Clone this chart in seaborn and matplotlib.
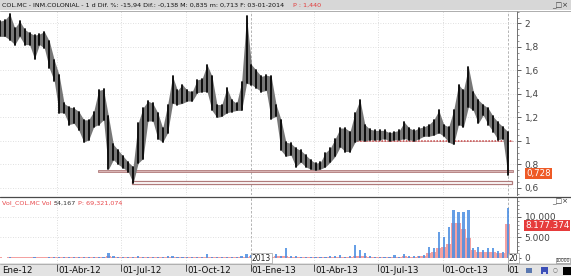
import numpy as np
import pandas as pd
import matplotlib
matplotlib.use("Agg")
import matplotlib.pyplot as plt
import matplotlib.dates as mdates
from matplotlib.patches import Rectangle
from matplotlib.ticker import MultipleLocator
import seaborn as sns

# ---------------- data (weekly bars) ----------------
week_end = pd.date_range("2012-01-13", periods=104, freq="W-FRI")

price_high = [2.02, 2.03, 2.08, 1.96, 2.02, 1.95, 1.92, 1.90, 1.91, 1.93,
              1.85, 1.69, 1.56, 1.32, 1.29, 1.28, 1.25, 1.18, 1.18, 1.25,
              1.43, 1.44, 1.21, 0.97, 0.92, 0.87, 0.82, 0.78, 1.15, 1.28,
              1.34, 1.32, 1.24, 1.11, 1.31, 1.55, 1.43, 1.48, 1.43, 1.42,
              1.52, 1.53, 1.65, 1.55, 1.31, 1.31, 1.45, 1.35, 1.32, 1.50,
              2.06, 1.65, 1.60, 1.55, 1.56, 1.55, 1.31, 1.18, 0.99, 0.98,
              0.94, 0.92, 0.88, 0.84, 0.81, 0.82, 0.90, 0.94, 1.02, 1.11,
              1.11, 1.08, 1.24, 1.35, 1.14, 1.10, 1.09, 1.09, 1.09, 1.07,
              1.08, 1.09, 1.16, 1.11, 1.09, 1.11, 1.12, 1.14, 1.18, 1.26,
              1.14, 1.12, 1.26, 1.48, 1.43, 1.63, 1.42, 1.35, 1.31, 1.28,
              1.21, 1.16, 1.12, 1.08]
price_low = [1.89, 1.89, 1.86, 1.82, 1.89, 1.82, 1.82, 1.70, 1.82, 1.79,
             1.62, 1.51, 1.24, 1.24, 1.14, 1.15, 1.09, 0.99, 1.01, 1.12,
             1.14, 1.18, 0.76, 0.84, 0.80, 0.77, 0.74, 0.64, 0.81, 0.85,
             1.17, 1.17, 1.02, 0.99, 1.07, 1.32, 1.31, 1.32, 1.34, 1.34,
             1.41, 1.42, 1.42, 1.26, 1.20, 1.21, 1.24, 1.25, 1.26, 1.26,
             1.49, 1.48, 1.45, 1.42, 1.43, 1.19, 1.21, 0.92, 0.87, 0.88,
             0.78, 0.82, 0.78, 0.76, 0.75, 0.76, 0.78, 0.82, 0.87, 0.95,
             0.91, 0.91, 0.99, 1.01, 1.00, 1.01, 1.01, 1.01, 1.02, 1.00,
             1.01, 1.01, 1.02, 1.01, 1.00, 1.02, 1.04, 1.04, 1.05, 1.07,
             1.04, 0.99, 0.97, 1.14, 1.12, 1.29, 1.26, 1.15, 1.22, 1.14,
             1.08, 1.01, 1.02, 0.713]

# volume in thousands of shares (blue = up, pink = down)
vol_up = [100, 80, 150, 120, 90, 100, 80, 200, 100, 120,
          200, 250, 300, 150, 200, 150, 250, 300, 200, 250,
          350, 300, 1300, 400, 200, 150, 200, 250, 400, 350,
          200, 250, 150, 300, 500, 450, 200, 300, 150, 200,
          150, 200, 1000, 300, 200, 150, 250, 300, 200, 600,
          900, 700, 500, 400, 700, 500, 1000, 600, 2400, 500,
          400, 300, 200, 150, 150, 200, 300, 400, 400, 700,
          300, 500, 3200, 2000, 1300, 400, 300, 250, 300, 200,
          800, 300, 1000, 400, 600, 500, 700, 2800, 2400, 6400,
          5200, 7600, 11700, 11300, 11300, 11700, 2500, 2800, 2000, 2500,
          2500, 1800, 1500, 12300]
vol_down = [150, 120, 180, 150, 130, 150, 140, 200, 150, 160,
            200, 220, 250, 180, 200, 170, 220, 250, 200, 210,
            250, 240, 400, 260, 200, 180, 200, 220, 300, 260,
            200, 220, 180, 240, 300, 280, 200, 240, 180, 200,
            180, 200, 350, 240, 200, 180, 220, 240, 200, 300,
            300, 400, 300, 300, 400, 300, 500, 400, 400, 300,
            250, 200, 150, 150, 150, 150, 200, 250, 300, 300,
            250, 300, 600, 500, 400, 250, 200, 200, 200, 200,
            300, 200, 400, 300, 300, 400, 500, 1200, 1500, 2500,
            2700, 3500, 8500, 8450, 7000, 4900, 2000, 1500, 1500, 1500,
            1400, 1300, 1200, 8177]

last_close = 0.728
last_close_label = "0,728"
last_volume_k = 8177.374
last_volume_label = "8.177.374"

support_band = (0.737, 0.757, "2012-05-29", "2014-01-08")
support_box = (0.635, 0.661, "2012-07-16", "2014-01-07")
resistance = (1.0, "2013-06-01", "2014-01-08")

quarter_dates = ["2012-01-01", "2012-04-01", "2012-07-01", "2012-10-01", "2013-01-01",
                 "2013-04-01", "2013-07-01", "2013-10-01", "2014-01-01"]
# labels as visible (first and last are cut by the panel edges in the reference)
quarter_labels = ["Ene-12", "01-Abr-12", "01-Jul-12", "01-Oct-12", "01-Ene-13",
                  "01-Abr-13", "01-Jul-13", "01-Oct-13", "01"]
year_dates = ["2013-01-01", "2014-01-01"]
year_labels = ["2013", "20"]

price_ticks = [0.6, 0.8, 1.0, 1.2, 1.4, 1.6, 1.8, 2.0]
price_tick_labels = ["0,6", "0,8", "1", "1,2", "1,4", "1,6", "1,8", "2"]
vol_ticks = [0, 5000, 10000]
vol_tick_labels = ["0", "5.000", "10.000"]

header_text = "COL.MC - INM.COLONIAL - 1 d Dif. %: -15,94 Dif.: -0,138 M: 0,835 m: 0,713 F: 03-01-2014"
header_p = "P : 1,440"
vol_legend = [("Vol_COL.MC Vol :", 2), ("54,167", 54), ("P: 69,321,074", 78)]
vol_legend_colors = ["#e8474a", "#333333", "#e8474a"]

# ---------------- style ----------------
sns.set_style("white")
plt.rcParams["font.family"] = ["Liberation Sans Narrow", "DejaVu Sans"]

W, H = 571, 276
fig = plt.figure(figsize=(W / 100, H / 100), dpi=100)
fig.patch.set_facecolor("white")


def fx(px):
    return px / W


def fy(py):
    return 1 - py / H


xlim = (mdates.date2num(pd.Timestamp("2012-01-11")), mdates.date2num(pd.Timestamp("2014-01-14")))
px_per_day = 517.0 / (xlim[1] - xlim[0])
xc = mdates.date2num(week_end) - 2.0
bin_lo, bin_hi = float(xc[0] - 3.5), float(xc[-1] + 3.5)

# backgrounds
fig.add_artist(Rectangle((0, fy(10)), 1, 10 / H, transform=fig.transFigure,
                         fc="#d7d7d7", ec="none", zorder=0))
fig.add_artist(Rectangle((0, 0), 1, 13 / H, transform=fig.transFigure,
                         fc="#e3e3e3", ec="none", zorder=0))

ax = fig.add_axes([0, fy(195), fx(517), (195 - 11) / H])
axv = fig.add_axes([0, fy(263), fx(517), (263 - 198) / H])
axs = fig.add_axes([0, 0, fx(517), 13 / H])

# ---------------- price panel ----------------
ax.set_facecolor("white")
for q in quarter_dates:
    yr = q.endswith("01-01")
    ax.axvline(mdates.date2num(pd.Timestamp(q)), color="#a8a8a8" if yr else "#d2d2d2",
               lw=0.6, ls=(0, (3, 2)) if yr else (0, (1, 2)), zorder=1)
for t in price_ticks:
    ax.axhline(t, color="#d6d6d6", lw=0.6, ls=(0, (1, 2)), zorder=1)

lo, hi, d0, d1 = support_band
x0, x1 = mdates.date2num(pd.Timestamp(d0)), mdates.date2num(pd.Timestamp(d1))
ax.add_patch(Rectangle((x0, lo), x1 - x0, hi - lo, fc="#d8b4b4", ec="#b07a7a", lw=0.6, zorder=2))
lo, hi, d0, d1 = support_box
x0, x1 = mdates.date2num(pd.Timestamp(d0)), mdates.date2num(pd.Timestamp(d1))
ax.add_patch(Rectangle((x0, lo), x1 - x0, hi - lo, fc="white", ec="#b07a7a", lw=0.9, zorder=2))
lvl, d0, d1 = resistance
x0, x1 = mdates.date2num(pd.Timestamp(d0)), mdates.date2num(pd.Timestamp(d1))
ax.plot([x0, x1], [lvl, lvl], color="#d3a3a3", lw=0.5, zorder=2)
ax.plot([x0, x1], [lvl, lvl], color="#c44848", lw=1.1, ls=(0, (1, 1)), zorder=2)

# price ribbon (weekly low-high range) plus the weekly high-low bars
ax.fill_between(xc, price_low, price_high, color="#777777", lw=0, zorder=3)
bars = pd.DataFrame({
    "x": np.repeat(xc, 2),
    "price": np.ravel(np.column_stack([price_low, price_high])),
    "week": np.repeat(np.arange(len(xc)), 2),
})
sns.lineplot(data=bars, x="x", y="price", units="week", estimator=None, color="#050505",
             lw=1.3, ax=ax, legend=False, zorder=4)

ax.set_xlim(*xlim)
ax.set_ylim(0.540, 2.106)
ax.set_xlabel("")
ax.set_ylabel("")
ax.set_xticks([])
ax.yaxis.tick_right()
ax.set_yticks(price_ticks)
ax.set_yticklabels(price_tick_labels)
ax.yaxis.set_minor_locator(MultipleLocator(0.05))
ax.tick_params(axis="y", which="major", length=3, width=0.6, colors="#444444",
               labelsize=6.5, pad=2.5, right=True, left=False)
ax.tick_params(axis="y", which="minor", length=1.6, width=0.5, colors="#666666",
               right=True, left=False)
for s in ["top", "left", "bottom"]:
    ax.spines[s].set_visible(False)
ax.spines["right"].set_color("#707070")
ax.spines["right"].set_linewidth(0.7)

ax.annotate(last_close_label, xy=(1, last_close), xycoords=("axes fraction", "data"),
            xytext=(9, -1), textcoords="offset pixels", ha="left", va="center",
            fontsize=6.2, color="white", annotation_clip=False,
            bbox=dict(boxstyle="square,pad=0.12", fc="#ee5a26", ec="none"))

# ---------------- volume panel ----------------
axv.set_facecolor("white")
for q in quarter_dates:
    yr = q.endswith("01-01")
    axv.axvline(mdates.date2num(pd.Timestamp(q)), color="#a8a8a8" if yr else "#d2d2d2",
                lw=0.6, ls=(0, (3, 2)) if yr else (0, (1, 2)), zorder=0)
for t in vol_ticks[1:]:
    axv.axhline(t, color="#d6d6d6", lw=0.6, ls=(0, (1, 2)), zorder=0)

vol_df = pd.DataFrame({"x": xc, "down": vol_down, "up": vol_up})
sns.histplot(data=vol_df, x="x", weights="down", binwidth=7.0, binrange=(bin_lo, bin_hi),
             color="#f3a1a1", alpha=1.0, linewidth=0, ax=axv, zorder=2)
sns.histplot(data=vol_df, x="x", weights="up", binwidth=7.0, binrange=(bin_lo, bin_hi),
             shrink=0.45, color="#4b8ee2", alpha=0.85, linewidth=0, ax=axv, zorder=3)

axv.set_xlim(*xlim)
axv.set_ylim(-1220, 14630)
axv.set_xlabel("")
axv.set_ylabel("")
axv.set_xticks([])
axv.yaxis.tick_right()
axv.set_yticks(vol_ticks)
axv.set_yticklabels(vol_tick_labels)
axv.yaxis.set_minor_locator(MultipleLocator(1000))
axv.tick_params(axis="y", which="major", length=3, width=0.6, colors="#444444",
                labelsize=6.5, pad=2.5, right=True, left=False)
axv.tick_params(axis="y", which="minor", length=1.6, width=0.5, colors="#666666",
                right=True, left=False)
for s in ["top", "left", "bottom"]:
    axv.spines[s].set_visible(False)
axv.spines["right"].set_color("#707070")
axv.spines["right"].set_linewidth(0.7)

axv.annotate(last_volume_label, xy=(1, last_volume_k), xycoords=("axes fraction", "data"),
             xytext=(8, -1), textcoords="offset pixels", ha="left", va="center",
             fontsize=6.3, color="white", annotation_clip=False,
             bbox=dict(boxstyle="square,pad=0.12", fc="#e63b3b", ec="none"))

for d, lab in zip(year_dates, year_labels):
    axv.text(mdates.date2num(pd.Timestamp(d)) + 1.5, -1150, lab, fontsize=5.5,
             ha="left", va="bottom", color="#222222", zorder=5,
             bbox=dict(boxstyle="square,pad=0.1", fc="white", ec="#888888", lw=0.4))

# ---------------- date strip ----------------
axs.set_xlim(*xlim)
axs.set_ylim(0, 1)
axs.axis("off")
for i, (d, lab) in enumerate(zip(quarter_dates, quarter_labels)):
    xd = mdates.date2num(pd.Timestamp(d))
    if i == 0:
        xd = xlim[0] + 1.5 / px_per_day
    else:
        axs.plot([xd, xd], [0.95, 0.35], color="#333333", lw=0.6, clip_on=True)
    axs.text(xd + 1.4, 0.45, lab, fontsize=6.3, ha="left", va="center", color="#111111")

# ---------------- frame lines / header ----------------
fig.add_artist(plt.Line2D([0, 1], [fy(10.5), fy(10.5)], transform=fig.transFigure,
                          color="#a0a0a0", lw=0.6))
fig.add_artist(plt.Line2D([0, 1], [fy(196.5), fy(196.5)], transform=fig.transFigure,
                          color="#4a4a4a", lw=0.9))
fig.add_artist(plt.Line2D([0, 1], [fy(263.5), fy(263.5)], transform=fig.transFigure,
                          color="#9a9a9a", lw=0.5))

ht = fig.text(fx(2), fy(5.3), header_text, fontsize=6, color="#111111", ha="left", va="center")
fig.canvas.draw()
w = ht.get_window_extent().width
ht.set_fontsize(6 * 285.0 / w)
fig.text(fx(293), fy(5.3), header_p, fontsize=ht.get_fontsize(), color="#e23b3b",
         ha="left", va="center")
fig.text(fx(568), fy(5.5), "_□×", fontsize=5, color="#333333", ha="right", va="center",
         family="DejaVu Sans")
fig.text(fx(568), fy(201.5), "_□×", fontsize=5, color="#333333", ha="right", va="center",
         family="DejaVu Sans")

for (txt, px), col in zip(vol_legend, vol_legend_colors):
    fig.text(fx(px), fy(203), txt, fontsize=ht.get_fontsize(), color=col, ha="left", va="center")

# bottom-right toolbar
fig.add_artist(Rectangle((fx(526), fy(273)), 6 / W, 5 / H, transform=fig.transFigure,
                         fc="#5a78b0", ec="none"))
fig.add_artist(Rectangle((fx(541), fy(274)), 7 / W, 7 / H, transform=fig.transFigure,
                         fc="#3c4fb8", ec="none"))
fig.add_artist(Rectangle((fx(543), fy(274)), 3 / W, 2.5 / H, transform=fig.transFigure,
                         fc="#d0d4f0", ec="none"))
fig.text(fx(555), fy(270), "○", fontsize=4, color="#666666", ha="center", va="center",
         family="DejaVu Sans")
fig.add_artist(Rectangle((fx(563), fy(274.5)), 7.5 / W, 8 / H, transform=fig.transFigure,
                         fc="black", ec="none"))
fig.add_artist(Rectangle((fx(556), fy(263)), 14 / W, 5 / H, transform=fig.transFigure,
                         fc="white", ec="#777777", lw=0.4))
fig.text(fx(563), fy(260.5), "10000", fontsize=3.3, color="#333333", ha="center",
         va="center", family="DejaVu Sans")

fig.savefig("out.png", dpi=100, facecolor="white")
